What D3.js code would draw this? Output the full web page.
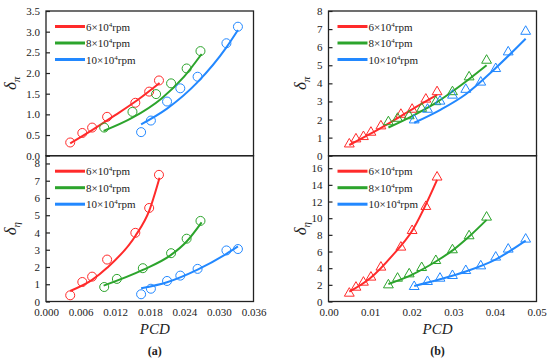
<!DOCTYPE html>
<html>
<head>
<meta charset="utf-8">
<script src="https://cdn.jsdelivr.net/npm/d3@7"></script>
<style>
  body { margin: 0; background: #fff; }
</style>
</head>
<body>
<svg id="chart" width="550" height="364"></svg>
<script>
// Series colours and legend labels (rpm)
var colors = ['#ff2a2a', '#2ca42c', '#2288ff'];
var speeds = ['6', '8', '10'];
var serif = 'Liberation Serif';

// (a) top: delta_pi vs PCD (circles)
var aPiX6 = [0.0042, 0.0063, 0.0080, 0.0106, 0.0155, 0.0179, 0.0196];
var aPiY6 = [0.32, 0.55, 0.68, 0.94, 1.28, 1.55, 1.82];
var aPiX8 = [0.0101, 0.0150, 0.0191, 0.0217, 0.0244, 0.0268];
var aPiY8 = [0.68, 1.06, 1.49, 1.75, 2.11, 2.53];
var aPiX10 = [0.0165, 0.0182, 0.0210, 0.0233, 0.0263, 0.0313, 0.0333];
var aPiY10 = [0.57, 0.85, 1.31, 1.63, 1.91, 2.72, 3.12];
var aPiFit6 = [[0.0042, 0.30], [0.0080, 0.62], [0.0120, 0.98], [0.0160, 1.36], [0.0197, 1.76]];
var aPiFit8 = [[0.0100, 0.60], [0.0150, 0.92], [0.0200, 1.38], [0.0240, 1.92], [0.0270, 2.46]];
var aPiFit10 = [[0.0165, 0.76], [0.0210, 1.14], [0.0263, 1.78], [0.0313, 2.62], [0.0333, 3.04]];

// (a) bottom: delta_eta vs PCD (circles)
var aEtaX6 = [0.0042, 0.0063, 0.0080, 0.0106, 0.0155, 0.0179, 0.0196];
var aEtaY6 = [0.36, 1.13, 1.44, 2.43, 3.98, 5.42, 7.34];
var aEtaX8 = [0.0101, 0.0123, 0.0168, 0.0217, 0.0244, 0.0268];
var aEtaY8 = [0.84, 1.31, 1.93, 2.80, 3.64, 4.67];
var aEtaX10 = [0.0165, 0.0182, 0.0210, 0.0233, 0.0263, 0.0313, 0.0333];
var aEtaY10 = [0.42, 0.74, 1.19, 1.50, 1.89, 2.96, 3.04];
var aEtaFit6 = [[0.0042, 0.61], [0.0080, 1.25], [0.0106, 1.95], [0.0155, 3.80], [0.0179, 5.25], [0.0197, 7.17]];
var aEtaFit8 = [[0.0100, 0.92], [0.0168, 1.83], [0.0217, 2.70], [0.0244, 3.48], [0.0270, 4.59]];
var aEtaFit10 = [[0.0165, 0.77], [0.0210, 1.12], [0.0263, 1.85], [0.0313, 2.76], [0.0333, 3.19]];

// (b) top: delta_pi vs PCD (triangles)
var bPiX6 = [0.0050, 0.0066, 0.0084, 0.0102, 0.0126, 0.0174, 0.0201, 0.0234, 0.0261];
var bPiY6 = [0.64, 0.92, 1.05, 1.29, 1.64, 2.28, 2.56, 3.12, 3.53];
var bPiX8 = [0.0144, 0.0166, 0.0194, 0.0224, 0.0258, 0.0298, 0.0338, 0.0380];
var bPiY8 = [1.87, 2.06, 2.20, 2.61, 2.98, 3.53, 4.35, 5.27];
var bPiX10 = [0.0206, 0.0238, 0.0268, 0.0298, 0.0330, 0.0366, 0.0402, 0.0432, 0.0474];
var bPiY10 = [1.97, 2.56, 3.01, 3.34, 3.66, 4.06, 4.81, 5.73, 6.87];
var bPiFit6 = [[0.0050, 0.59], [0.0100, 1.20], [0.0150, 1.86], [0.0200, 2.55], [0.0261, 3.36]];
var bPiFit8 = [[0.0144, 1.56], [0.0200, 2.18], [0.0258, 2.92], [0.0320, 3.92], [0.0380, 5.00]];
var bPiFit10 = [[0.0206, 1.82], [0.0270, 2.55], [0.0330, 3.40], [0.0402, 4.85], [0.0474, 6.47]];

// (b) bottom: delta_eta vs PCD (triangles)
var bEtaX6 = [0.0050, 0.0066, 0.0084, 0.0102, 0.0126, 0.0174, 0.0201, 0.0234, 0.0261];
var bEtaY6 = [0.98, 1.70, 2.30, 2.91, 4.11, 6.51, 8.50, 11.39, 14.92];
var bEtaX8 = [0.0144, 0.0166, 0.0194, 0.0224, 0.0258, 0.0298, 0.0338, 0.0380];
var bEtaY8 = [1.98, 2.78, 3.30, 4.06, 4.90, 6.19, 7.87, 10.11];
var bEtaX10 = [0.0206, 0.0238, 0.0268, 0.0298, 0.0330, 0.0366, 0.0402, 0.0432, 0.0474];
var bEtaY10 = [1.78, 2.38, 2.78, 3.10, 3.70, 4.26, 5.31, 6.27, 7.47];
var bEtaFit6 = [[0.0050, 1.18], [0.0100, 2.79], [0.0155, 5.60], [0.0200, 8.40], [0.0261, 14.60]];
var bEtaFit8 = [[0.0144, 2.10], [0.0200, 3.20], [0.0258, 4.80], [0.0300, 6.20], [0.0338, 7.80], [0.0380, 9.80]];
var bEtaFit10 = [[0.0206, 1.86], [0.0270, 2.70], [0.0330, 3.60], [0.0400, 5.00], [0.0474, 7.30]];

// Tick labels
var aXTicks = [0, 0.006, 0.012, 0.018, 0.024, 0.030, 0.036];
var bXTicks = [0, 0.01, 0.02, 0.03, 0.04, 0.05];
var aPiTicks = [0, 0.5, 1.0, 1.5, 2.0, 2.5, 3.0, 3.5];
var aEtaTicks = [0, 1, 2, 3, 4, 5, 6, 7, 8];
var bPiTicks = [0, 1, 2, 3, 4, 5, 6, 7, 8];
var bEtaTicks = [0, 2, 4, 6, 8, 10, 12, 14, 16];

var svg = d3.select('#chart');

var topY = 11, midY = 155.7, botY = 301.5;
var xA = d3.scaleLinear().domain([0, 0.036]).range([46, 253.5]);
var xB = d3.scaleLinear().domain([0, 0.05]).range([328.5, 536.5]);

function zipSeries(xs, ys) {
  return xs.map(function(x, i) { return [x, ys[i]]; });
}

var panels = [
  { x: xA, y: d3.scaleLinear().domain([0, 3.5]).range([midY, topY]), ticks: aPiTicks, fmt: '.1f',
    mark: 'circle', sub: 'π', labOff: 30, xTicks: null,
    series: [[aPiX6, aPiY6, aPiFit6], [aPiX8, aPiY8, aPiFit8], [aPiX10, aPiY10, aPiFit10]] },
  { x: xA, y: d3.scaleLinear().domain([0, 8.45]).range([botY, midY]), ticks: aEtaTicks, fmt: 'd',
    mark: 'circle', sub: 'η', labOff: 30, xTicks: aXTicks, xFmt: '.3f', tag: '(a)',
    series: [[aEtaX6, aEtaY6, aEtaFit6], [aEtaX8, aEtaY8, aEtaFit8], [aEtaX10, aEtaY10, aEtaFit10]] },
  { x: xB, y: d3.scaleLinear().domain([0, 8]).range([midY, topY]), ticks: bPiTicks, fmt: 'd',
    mark: 'triangle', sub: 'π', labOff: 23, xTicks: null,
    series: [[bPiX6, bPiY6, bPiFit6], [bPiX8, bPiY8, bPiFit8], [bPiX10, bPiY10, bPiFit10]] },
  { x: xB, y: d3.scaleLinear().domain([0, 17.5]).range([botY, midY]), ticks: bEtaTicks, fmt: 'd',
    mark: 'triangle', sub: 'η', labOff: 23, xTicks: bXTicks, xFmt: '.2f', tag: '(b)',
    series: [[bEtaX6, bEtaY6, bEtaFit6], [bEtaX8, bEtaY8, bEtaFit8], [bEtaX10, bEtaY10, bEtaFit10]] }
];

var tri = d3.symbol().type(d3.symbolTriangle).size(42);

panels.forEach(function(p) {
  var x0 = p.x.range()[0], x1 = p.x.range()[1];
  var y0 = p.y.range()[0], y1 = p.y.range()[1];
  var g = svg.append('g');

  // Y axis, ticks pointing inward
  var yAxis = d3.axisLeft(p.y).tickValues(p.ticks).tickSize(-4).tickPadding(6)
    .tickFormat(d3.format(p.fmt));
  var ya = g.append('g').attr('transform', 'translate(' + x0 + ',0)').call(yAxis);
  ya.select('.domain').remove();
  ya.selectAll('line').attr('stroke', '#222').attr('stroke-width', 1.2);
  ya.selectAll('text').attr('font-family', serif).attr('font-size', 11).attr('fill', '#222');

  // X axis only on the lower panels
  if (p.xTicks) {
    var xAxis = d3.axisBottom(p.x).tickValues(p.xTicks).tickSize(0).tickPadding(7)
      .tickFormat(d3.format(p.xFmt));
    var xa = g.append('g').attr('transform', 'translate(0,' + y0 + ')').call(xAxis);
    xa.select('.domain').remove();
    xa.selectAll('text').attr('font-family', serif).attr('font-size', 11).attr('fill', '#222');

    var cx = (x0 + x1) / 2 + 5;
    g.append('text').attr('x', cx).attr('y', 334).attr('text-anchor', 'middle')
      .attr('font-family', serif).attr('font-size', 15).attr('font-style', 'italic')
      .attr('fill', '#222').text('PCD');
    g.append('text').attr('x', cx).attr('y', 355).attr('text-anchor', 'middle')
      .attr('font-family', serif).attr('font-size', 12).attr('font-weight', 'bold')
      .attr('fill', '#222').text(p.tag);
  }

  // Frame
  g.append('rect').attr('x', x0).attr('y', y1).attr('width', x1 - x0).attr('height', y0 - y1)
    .attr('fill', 'none').attr('stroke', '#222').attr('stroke-width', 1.3);

  // Y label: delta with subscript
  var ly = (y0 + y1) / 2;
  var lab = g.append('text')
    .attr('transform', 'translate(' + (x0 - p.labOff) + ',' + ly + ') rotate(-90)')
    .attr('text-anchor', 'middle').attr('font-family', serif)
    .attr('font-style', 'italic').attr('font-size', 17).attr('fill', '#222');
  lab.append('tspan').text('δ');
  lab.append('tspan').attr('dy', 4).attr('font-size', 11).text(p.sub);

  var line = d3.line().x(function(d) { return p.x(d[0]); }).y(function(d) { return p.y(d[1]); })
    .curve(d3.curveMonotoneX);

  p.series.forEach(function(s, i) {
    var c = colors[i];
    g.append('path').datum(s[2]).attr('d', line).attr('fill', 'none')
      .attr('stroke', c).attr('stroke-width', 2);

    var pts = zipSeries(s[0], s[1]);
    if (p.mark === 'circle') {
      g.selectAll(null).data(pts).enter().append('circle')
        .attr('cx', function(d) { return p.x(d[0]); })
        .attr('cy', function(d) { return p.y(d[1]); })
        .attr('r', 4.5).attr('fill', 'none').attr('stroke', c).attr('stroke-width', 1);
    } else {
      g.selectAll(null).data(pts).enter().append('path')
        .attr('d', tri)
        .attr('transform', function(d) { return 'translate(' + p.x(d[0]) + ',' + p.y(d[1]) + ')'; })
        .attr('fill', 'none').attr('stroke', c).attr('stroke-width', 1);
    }

    // Legend row
    var rowY = y1 + 15.5 + i * 16.5;
    g.append('line').attr('x1', x0 + 9).attr('x2', x0 + 39).attr('y1', rowY).attr('y2', rowY)
      .attr('stroke', c).attr('stroke-width', 3);
    var t = g.append('text').attr('x', x0 + 40).attr('y', rowY + 4)
      .attr('font-family', serif).attr('font-size', 11).attr('fill', '#222');
    t.append('tspan').text(speeds[i] + '×10');
    t.append('tspan').attr('dy', -4).attr('font-size', 7).text('4');
    t.append('tspan').attr('dy', 4).text('rpm');
  });
});
</script>
</body>
</html>
